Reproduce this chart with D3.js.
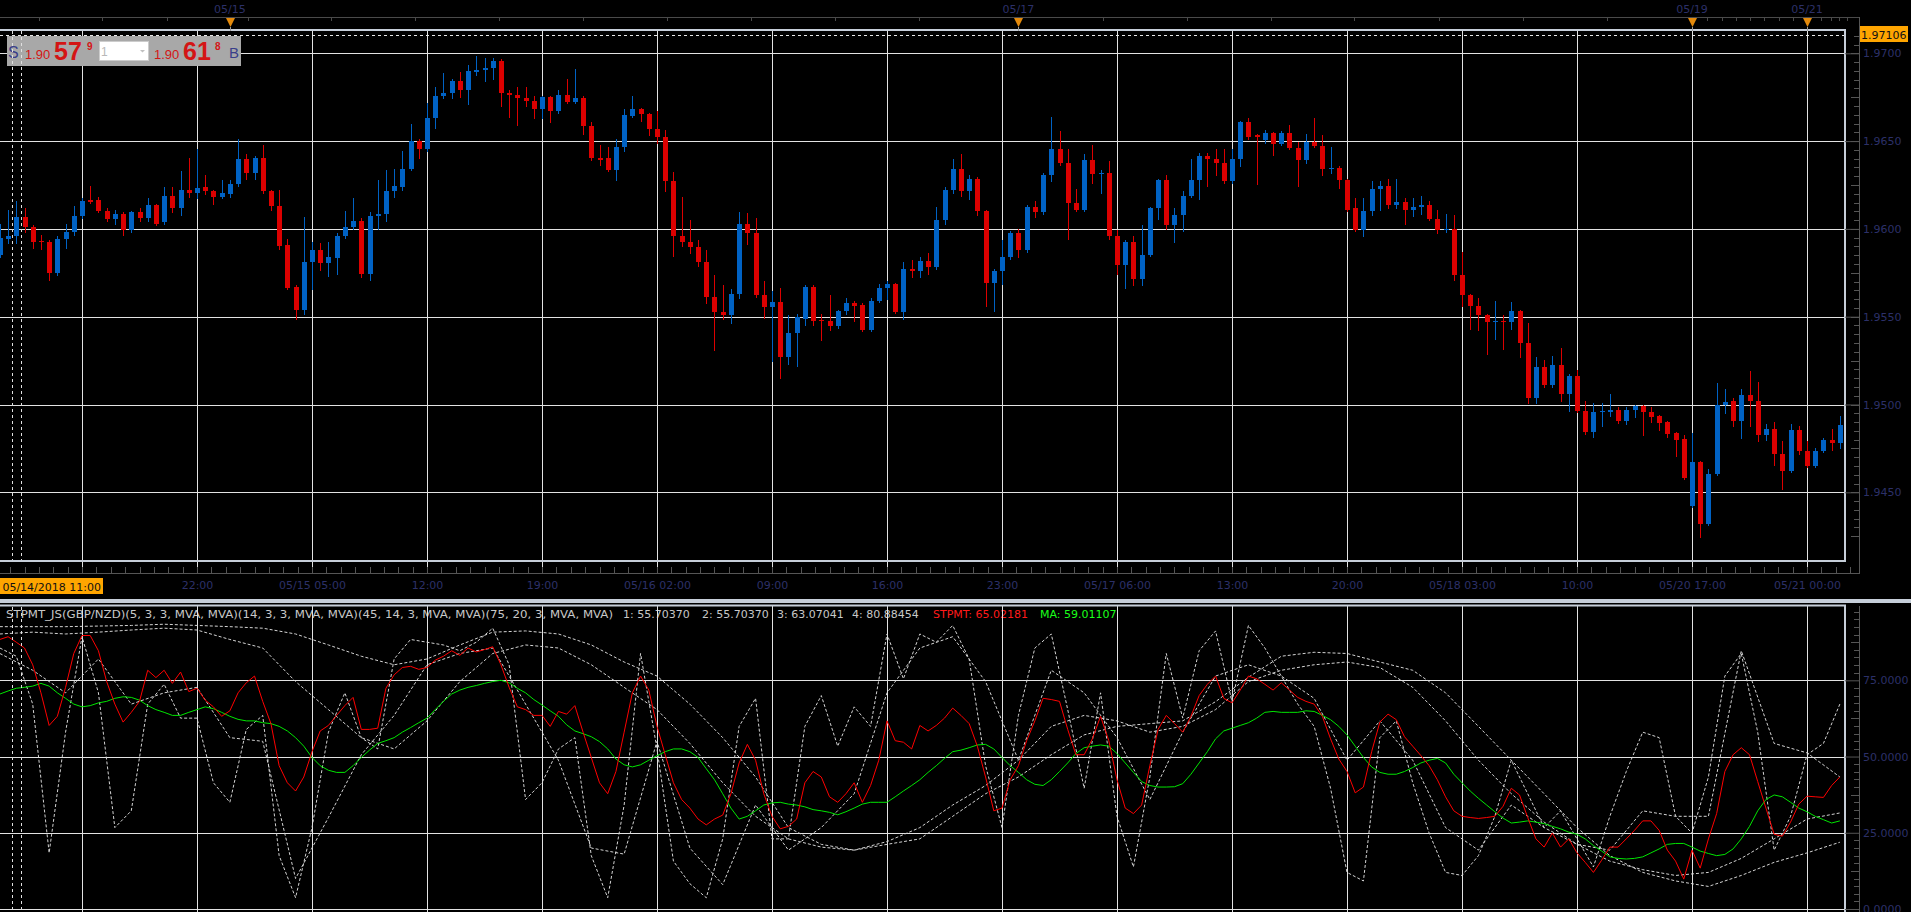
<!DOCTYPE html>
<html>
<head>
<meta charset="utf-8">
<title>GBP/NZD 30min - STPMT</title>
<script src="https://cdn.jsdelivr.net/npm/d3@7/dist/d3.min.js"></script>
<style>
  html, body { margin: 0; padding: 0; background: #000; overflow: hidden; }
  svg { display: block; }
</style>
</head>
<body>
<svg id="chart" width="1911" height="912"></svg>
<script>
// GBP/NZD, 30 minute candles, 05/14/2018 10:00 .. 05/21/2018 02:00
const openP = [1.95854,1.95941,1.95957,1.96069,1.96008,1.95931,1.95925,1.95749,1.95941,1.95982,
  1.96072,1.96162,1.96162,1.96101,1.96056,1.96085,1.95992,1.96094,1.96062,1.96136,
  1.96037,1.96190,1.96117,1.96222,1.96206,1.96238,1.96213,1.96181,1.96200,1.96254,
  1.96398,1.96318,1.96405,1.96216,1.96133,1.95909,1.95669,1.95541,1.95813,1.95880,
  1.95806,1.95832,1.95960,1.96008,1.96046,1.95742,1.96072,1.96085,1.96213,1.96238,
  1.96341,1.96501,1.96453,1.96629,1.96757,1.96773,1.96840,1.96789,1.96894,1.96904,
  1.96917,1.96958,1.96776,1.96760,1.96744,1.96728,1.96680,1.96750,1.96670,1.96760,
  1.96725,1.96744,1.96584,1.96405,1.96405,1.96334,1.96469,1.96645,1.96680,1.96654,
  1.96568,1.96526,1.96270,1.95960,1.95928,1.95896,1.95813,1.95614,1.95528,1.95509,
  1.95630,1.96030,1.95976,1.95621,1.95554,1.95586,1.95272,1.95407,1.95486,1.95669,
  1.95480,1.95474,1.95448,1.95534,1.95576,1.95566,1.95422,1.95592,1.95662,1.95688,
  1.95528,1.95774,1.95758,1.95816,1.95781,1.96053,1.96222,1.96341,1.96216,1.96286,
  1.96101,1.95694,1.95758,1.95838,1.95976,1.95877,1.96126,1.96094,1.96309,1.96453,
  1.96373,1.96149,1.96110,1.96392,1.96312,1.96318,1.95957,1.95797,1.95925,1.95717,
  1.95854,1.96120,1.96280,1.96021,1.96078,1.96190,1.96277,1.96414,1.96398,1.96373,
  1.96270,1.96398,1.96606,1.96533,1.96504,1.96546,1.96485,1.96546,1.96462,1.96392,
  1.96494,1.96472,1.96341,1.96347,1.96277,1.96117,1.95992,1.96101,1.96229,1.96245,
  1.96136,1.96155,1.96110,1.96126,1.96136,1.96056,1.95992,1.95998,1.95736,1.95624,
  1.95560,1.95512,1.95470,1.95477,1.95470,1.95534,1.95349,1.95038,1.95214,1.95109,
  1.95227,1.95061,1.95160,1.94965,1.94846,1.94955,1.94958,1.94968,1.94904,1.94968,
  1.94990,1.94958,1.94933,1.94901,1.94837,1.94805,1.94421,1.94670,1.94318,1.94606,
  1.94997,1.95022,1.94904,1.95054,1.95022,1.94824,1.94862,1.94718,1.94622,1.94856,
  1.94734,1.94648,1.94734,1.94798,1.94782];
const highP = [1.96030,1.96110,1.96158,1.96117,1.96021,1.95966,1.95934,1.95957,1.96030,1.96133,
  1.96174,1.96245,1.96181,1.96117,1.96110,1.96094,1.96104,1.96117,1.96174,1.96142,
  1.96238,1.96238,1.96328,1.96405,1.96456,1.96309,1.96222,1.96277,1.96277,1.96510,
  1.96424,1.96414,1.96478,1.96222,1.96222,1.95944,1.95678,1.96069,1.95925,1.95918,
  1.95925,1.95976,1.96101,1.96174,1.96062,1.96094,1.96277,1.96334,1.96341,1.96446,
  1.96597,1.96510,1.96718,1.96808,1.96885,1.96853,1.96894,1.96936,1.96984,1.96974,
  1.96974,1.96968,1.96789,1.96808,1.96808,1.96757,1.96757,1.96757,1.96789,1.96853,
  1.96910,1.96757,1.96606,1.96478,1.96469,1.96510,1.96680,1.96757,1.96686,1.96661,
  1.96670,1.96565,1.96325,1.96184,1.96053,1.95934,1.95877,1.95736,1.95678,1.95656,
  1.96094,1.96088,1.96062,1.95704,1.95646,1.95662,1.95512,1.95518,1.95678,1.95678,
  1.95518,1.95621,1.95541,1.95605,1.95589,1.95576,1.95605,1.95688,1.95701,1.95694,
  1.95813,1.95822,1.95838,1.95861,1.96126,1.96238,1.96398,1.96424,1.96309,1.96296,
  1.96110,1.95774,1.95934,1.95989,1.95998,1.96136,1.96158,1.96318,1.96638,1.96558,
  1.96453,1.96229,1.96424,1.96478,1.96334,1.96389,1.95992,1.95934,1.95957,1.96021,
  1.96126,1.96286,1.96309,1.96117,1.96216,1.96398,1.96430,1.96430,1.96453,1.96456,
  1.96456,1.96616,1.96629,1.96542,1.96565,1.96552,1.96558,1.96590,1.96494,1.96542,
  1.96629,1.96533,1.96469,1.96357,1.96286,1.96174,1.96174,1.96270,1.96270,1.96286,
  1.96286,1.96174,1.96174,1.96187,1.96158,1.96110,1.96085,1.96078,1.95870,1.95630,
  1.95605,1.95518,1.95592,1.95509,1.95582,1.95541,1.95464,1.95272,1.95253,1.95278,
  1.95323,1.95173,1.95198,1.95022,1.95006,1.95006,1.95061,1.94984,1.94984,1.94997,
  1.94997,1.94984,1.94939,1.94904,1.94846,1.94824,1.94837,1.94677,1.94632,1.95125,
  1.95086,1.95035,1.95086,1.95189,1.95128,1.94888,1.94901,1.94792,1.94888,1.94875,
  1.94792,1.94750,1.94808,1.94862,1.94933];
const lowP = [1.95838,1.95918,1.95918,1.95982,1.95893,1.95886,1.95710,1.95739,1.95893,1.95966,
  1.96062,1.96149,1.96094,1.96046,1.96030,1.95966,1.95982,1.96046,1.96046,1.96021,
  1.96030,1.96094,1.96078,1.96181,1.96174,1.96200,1.96142,1.96174,1.96181,1.96245,
  1.96286,1.96286,1.96206,1.96110,1.95886,1.95656,1.95486,1.95518,1.95656,1.95765,
  1.95733,1.95742,1.95950,1.95998,1.95726,1.95710,1.95998,1.96046,1.96181,1.96222,
  1.96334,1.96405,1.96446,1.96574,1.96744,1.96744,1.96750,1.96712,1.96878,1.96840,
  1.96853,1.96702,1.96638,1.96590,1.96702,1.96629,1.96629,1.96606,1.96661,1.96718,
  1.96718,1.96542,1.96392,1.96366,1.96328,1.96277,1.96446,1.96638,1.96613,1.96533,
  1.96488,1.96213,1.95848,1.95902,1.95861,1.95790,1.95576,1.95310,1.95486,1.95464,
  1.95605,1.95912,1.95614,1.95493,1.95246,1.95150,1.95230,1.95221,1.95454,1.95454,
  1.95365,1.95422,1.95438,1.95518,1.95477,1.95416,1.95416,1.95582,1.95598,1.95522,
  1.95486,1.95726,1.95726,1.95742,1.95774,1.96030,1.96206,1.96190,1.96168,1.96078,
  1.95560,1.95534,1.95688,1.95829,1.95838,1.95870,1.96069,1.96085,1.96270,1.96366,
  1.95941,1.96104,1.96104,1.96264,1.96206,1.95944,1.95742,1.95662,1.95678,1.95678,
  1.95848,1.96056,1.95998,1.95925,1.95989,1.96181,1.96168,1.96245,1.96309,1.96264,
  1.96264,1.96360,1.96510,1.96254,1.96488,1.96421,1.96478,1.96456,1.96245,1.96373,
  1.96469,1.96309,1.96318,1.96232,1.96104,1.95989,1.95957,1.96078,1.96110,1.96117,
  1.96117,1.96030,1.96072,1.96085,1.96053,1.95976,1.95982,1.95710,1.95560,1.95432,
  1.95422,1.95288,1.95374,1.95317,1.95429,1.95272,1.95006,1.95006,1.95102,1.95102,
  1.95022,1.94965,1.94958,1.94830,1.94814,1.94878,1.94933,1.94894,1.94888,1.94926,
  1.94824,1.94901,1.94856,1.94814,1.94709,1.94574,1.94414,1.94248,1.94312,1.94600,
  1.94952,1.94875,1.94808,1.94878,1.94792,1.94798,1.94654,1.94517,1.94616,1.94718,
  1.94645,1.94645,1.94728,1.94741,1.94750];
const closeP = [1.95950,1.95957,1.96069,1.96008,1.95925,1.95925,1.95749,1.95941,1.95982,1.96072,
  1.96158,1.96155,1.96101,1.96056,1.96085,1.95992,1.96094,1.96062,1.96136,1.96030,
  1.96190,1.96117,1.96222,1.96206,1.96232,1.96213,1.96181,1.96203,1.96254,1.96398,
  1.96318,1.96405,1.96216,1.96133,1.95902,1.95662,1.95541,1.95813,1.95880,1.95806,
  1.95838,1.95960,1.96008,1.96046,1.95742,1.96072,1.96085,1.96213,1.96245,1.96341,
  1.96501,1.96453,1.96629,1.96757,1.96773,1.96840,1.96789,1.96901,1.96904,1.96917,
  1.96958,1.96776,1.96763,1.96744,1.96728,1.96680,1.96750,1.96670,1.96760,1.96725,
  1.96744,1.96584,1.96405,1.96395,1.96334,1.96469,1.96648,1.96680,1.96654,1.96568,
  1.96526,1.96270,1.95960,1.95928,1.95896,1.95813,1.95614,1.95528,1.95509,1.95630,
  1.96030,1.95976,1.95621,1.95554,1.95586,1.95272,1.95407,1.95496,1.95669,1.95477,
  1.95474,1.95448,1.95534,1.95576,1.95563,1.95422,1.95592,1.95662,1.95688,1.95528,
  1.95774,1.95758,1.95816,1.95781,1.96053,1.96222,1.96341,1.96216,1.96286,1.96101,
  1.95694,1.95758,1.95838,1.95976,1.95877,1.96126,1.96094,1.96309,1.96453,1.96373,
  1.96149,1.96110,1.96392,1.96312,1.96318,1.95957,1.95797,1.95925,1.95717,1.95854,
  1.96120,1.96280,1.96021,1.96078,1.96190,1.96277,1.96414,1.96398,1.96373,1.96270,
  1.96398,1.96606,1.96526,1.96523,1.96546,1.96485,1.96546,1.96462,1.96392,1.96494,
  1.96472,1.96341,1.96347,1.96277,1.96110,1.95992,1.96101,1.96229,1.96245,1.96136,
  1.96155,1.96110,1.96126,1.96136,1.96056,1.95992,1.95998,1.95736,1.95624,1.95560,
  1.95512,1.95470,1.95477,1.95470,1.95534,1.95349,1.95038,1.95214,1.95109,1.95227,
  1.95061,1.95160,1.94965,1.94846,1.94955,1.94965,1.94968,1.94904,1.94968,1.94990,
  1.94958,1.94926,1.94894,1.94830,1.94798,1.94581,1.94670,1.94318,1.94606,1.94997,
  1.95016,1.94904,1.95054,1.95022,1.94824,1.94862,1.94718,1.94622,1.94856,1.94734,
  1.94648,1.94734,1.94798,1.94782,1.94882];

// STPMT (red) and its moving average (green), one value per candle
const stpmt = [88.4,89.3,87.5,85.6,80.1,70.9,60.2,63.2,72.7,83.8,
  89.7,89.7,84.7,74.6,67.2,61.3,64.5,68.1,78.3,75.9,
  78.3,74.0,77.7,71.3,72.4,68.5,66.3,63.2,65.0,70.9,
  74.2,76.4,68.1,60.8,47.0,41.4,38.7,43.3,51.6,58.4,
  60.2,63.5,66.7,69.4,58.9,58.9,59.3,72.4,76.8,79.2,
  79.6,78.6,79.2,81.6,82.9,84.7,83.2,85.6,84.3,85.1,
  86.0,80.1,72.7,66.3,65.4,63.5,63.5,59.9,64.8,63.9,
  66.7,58.0,49.7,41.4,37.8,45.1,58.0,70.9,76.4,71.8,
  59.9,50.6,41.4,35.9,33.1,29.5,27.6,29.5,30.8,37.8,
  47.9,54.0,48.8,37.8,30.4,26.3,27.1,29.5,41.4,45.1,
  43.3,36.8,35.0,37.8,41.4,35.0,40.5,48.8,61.7,55.2,
  54.7,52.5,60.2,58.4,60.2,62.6,65.9,63.5,60.8,53.4,
  43.3,32.2,33.1,42.4,47.0,55.2,61.7,69.1,68.7,68.1,
  58.9,50.6,50.6,55.8,63.2,55.2,42.4,33.1,31.3,34.1,
  47.0,58.9,63.5,60.8,58.0,63.2,70.0,73.7,76.4,69.1,
  67.6,71.8,76.4,75.5,73.7,71.8,74.2,71.8,69.4,68.1,
  67.2,63.2,55.8,49.2,45.1,38.1,40.0,51.6,61.3,63.9,
  62.1,56.5,53.4,50.3,47.0,42.4,36.8,32.2,30.4,30.0,
  29.7,30.0,30.4,33.7,39.6,37.4,30.0,23.0,20.3,24.9,
  20.3,23.0,18.4,15.3,12.0,16.0,20.3,20.3,23.0,25.8,
  28.9,28.9,25.8,19.3,15.7,9.8,19.3,13.4,23.0,31.3,
  45.1,50.6,52.9,50.6,41.8,33.1,24.5,23.9,28.5,34.4,
  37.0,36.8,36.6,40.5,43.3];
const stpmtMA = [70.5,71.5,72.4,72.7,73.1,74.0,73.1,70.9,69.1,67.2,
  66.3,66.7,67.6,68.1,69.1,69.6,69.4,68.5,66.7,65.4,
  64.5,63.5,63.5,64.5,65.4,66.3,65.7,64.5,63.2,62.2,
  61.7,61.7,61.1,60.8,59.9,58.4,56.2,53.4,49.7,47.0,
  45.5,44.8,44.8,47.0,49.7,52.1,54.3,55.2,56.2,58.0,
  59.5,61.1,62.6,65.4,68.1,70.5,71.8,72.7,73.3,74.0,
  74.6,75.0,74.2,72.4,70.9,68.7,66.9,65.0,63.2,60.4,
  58.4,57.5,56.5,54.9,52.5,49.2,47.3,46.6,47.3,48.8,
  50.3,51.6,52.5,52.5,51.6,49.7,46.0,42.4,37.8,33.1,
  29.5,30.4,32.2,34.1,34.8,35.0,34.4,34.1,33.5,32.6,
  32.2,31.7,30.9,31.9,33.1,34.4,35.0,35.0,35.0,36.8,
  38.7,40.5,42.4,44.8,47.0,49.4,51.6,52.1,52.9,53.8,
  54.0,52.5,49.7,47.0,44.8,42.4,40.9,40.5,42.4,45.1,
  47.9,51.0,52.9,53.4,53.8,53.4,51.0,47.9,44.8,41.8,
  40.5,40.0,40.0,40.1,41.1,44.2,47.9,51.6,55.8,58.4,
  59.3,60.2,61.1,62.6,64.5,64.8,64.5,64.5,64.5,65.0,
  64.8,63.5,62.1,59.9,57.1,53.4,49.7,46.6,44.8,44.2,
  44.2,45.1,46.4,47.9,48.8,49.4,47.9,44.2,41.4,38.7,
  36.3,34.1,31.9,29.8,28.2,28.5,28.9,28.5,28.0,27.1,
  26.3,25.2,24.5,23.0,20.8,19.0,17.1,16.6,16.4,16.6,
  17.1,18.4,19.7,21.2,21.5,21.5,20.3,19.0,18.2,17.5,
  17.9,19.7,23.0,27.1,32.2,35.9,37.4,36.8,35.0,33.1,
  31.9,30.4,29.3,28.2,28.9];

// the four stochastics (dashed), read every 2 candles (1) and every 4 candles (2..4)
const stoch1Step = 2;
const stoch1 = [85.6,82.9,67.2,18.4,58.0,89.3,70.9,26.7,32.2,67.2,
  73.7,62.6,62.6,41.4,35.0,58.9,63.5,17.5,3.7,26.7,
  58.0,70.9,56.2,52.5,82.0,88.4,87.5,86.6,84.7,87.5,
  92.1,80.1,35.9,41.4,52.5,56.2,17.5,3.7,34.1,83.8,
  52.5,15.7,8.3,3.7,23.0,59.9,69.1,23.0,23.0,59.9,
  70.0,53.4,66.3,59.9,90.2,75.5,90.2,87.5,93.0,82.0,
  47.0,26.7,63.5,85.6,90.2,65.4,39.6,70.9,30.4,13.8,
  43.3,83.8,62.6,84.7,91.2,68.0,93.0,85.6,76.4,67.2,
  59.9,39.6,12.0,9.2,56.2,61.7,41.4,24.9,12.0,11.0,
  17.5,30.4,48.8,37.8,26.7,32.2,23.0,13.8,30.4,45.1,
  58.0,56.2,30.4,24.9,43.3,76.4,83.8,58.0,19.3,30.4,
  50.6,54.3,67.2];
const stochStep = 4;
const stoch2 = [83.8,78.3,70.9,82.0,67.2,70.9,72.7,56.2,55.0,10.0,
  30.0,50.6,63.5,80.1,83.8,85.6,67.2,48.8,20.0,18.0,
  55.0,20.0,8.0,34.1,19.3,26.7,37.8,70.9,85.6,89.3,
  74.6,48.8,78.3,70.9,56.2,35.9,58.0,76.4,80.1,76.4,
  69.1,48.8,61.7,48.8,26.7,19.3,34.1,26.7,21.2,19.3,
  32.2,30.4,30.4,84.7,54.3,51.2,43.3];
const stoch3 = [90.2,90.8,90.2,90.8,91.5,92.1,91.5,88.4,85.6,74.6,
  65.4,56.2,52.5,61.7,74.6,83.8,86.6,85.6,80.1,72.7,
  65.4,54.3,41.4,30.4,23.0,20.3,19.3,22.1,26.7,34.1,
  40.5,48.8,59.9,63.5,61.7,58.0,59.9,65.4,74.6,78.3,
  80.1,81.0,79.2,72.7,61.7,48.8,37.8,28.5,21.2,15.7,
  12.9,11.0,12.0,16.6,23.0,29.5,31.5];
const stoch4 = [92.6,92.6,92.6,92.8,93.0,93.4,93.0,92.6,92.1,90.2,
  86.6,82.9,80.1,82.0,86.6,90.8,91.2,90.2,86.6,81.0,
  76.4,67.2,56.2,43.3,26.7,21.2,19.3,21.2,23.0,30.4,
  37.8,43.3,50.6,57.1,59.9,60.8,61.7,68.0,76.0,82.9,
  84.2,83.8,81.0,78.3,70.9,59.9,48.8,37.8,26.7,17.5,
  12.0,9.2,7.4,11.0,15.3,18.4,21.9];

// axes (the 15:00 label sits under the cursor tag, so it is left empty)
const gridIdx = [10, 24, 38, 52, 66, 80, 94, 108, 122, 136, 150, 164, 178, 192, 206, 220];
const gridLabels = ['', '22:00', '05/15 05:00', '12:00', '19:00', '05/16 02:00', '09:00', '16:00',
  '23:00', '05/17 06:00', '13:00', '20:00', '05/18 03:00', '10:00', '05/20 17:00', '05/21 00:00'];
const dayIdx = [28, 124, 206, 220];
const dayLabels = ['05/15', '05/17', '05/19', '05/21'];
const topTickIdx = [4.8, 12.4, 20.3, 30.2, 40.3, 50.5, 60.8, 71.0, 81.2, 91.4, 101.7, 111.9, 134.3, 144.5,
  154.7, 164.9, 175.2, 185.4, 195.6, 207.8, 209.6, 211.3, 213.1, 214.8, 216.6, 218.3, 221.7, 222.9, 223.9, 224.9];
const priceTicks = [1.9450, 1.9500, 1.9550, 1.9600, 1.9650, 1.9700];
const indTicks = [0, 25, 50, 75];
const lastPrice = 1.97106;
const cursorLabel = '05/14/2018 11:00';
const indName = 'STPMT_JS(GBP/NZD)(5, 3, 3, MVA, MVA)(14, 3, 3, MVA, MVA)(45, 14, 3, MVA, MVA)(75, 20, 3, MVA, MVA)';
const indValues = ['1: 55.70370', '2: 55.70370', '3: 63.07041', '4: 80.88454'];
const stpmtText = 'STPMT: 65.02181';
const maText = 'MA: 59.01107';

const W = 1911, H = 912;
const FONT = 'DejaVu Sans, sans-serif';
const gridColor = '#e2e2e2', frameColor = '#c6ced9', axisColor = '#555', textColor = '#2c3068';
const upColor = '#0062c4', downColor = '#dc0000';

const x = d3.scaleLinear().domain([10, 220]).range([82, 1807]);
const yP = d3.scaleLinear().domain([1.945, 1.970]).range([492.3, 53.3]);
const yI = d3.scaleLinear().domain([0, 100]).range([909, 604.1]);
const px = v => Math.round(v) + 0.5;

const svg = d3.select('#chart');
svg.append('rect').attr('width', W).attr('height', H).attr('fill', '#000');

const defs = svg.append('defs');
defs.append('clipPath').attr('id', 'clipMain').append('rect')
  .attr('x', 0).attr('y', 31).attr('width', 1844).attr('height', 529);
defs.append('clipPath').attr('id', 'clipInd').append('rect')
  .attr('x', 0).attr('y', 607).attr('width', 1844).attr('height', 310);

// ---------- main price panel ----------
const gMain = svg.append('g');
gMain.selectAll('.hgrid').data(priceTicks).enter().append('line')
  .attr('x1', 0).attr('x2', 1845)
  .attr('y1', d => px(yP(d))).attr('y2', d => px(yP(d)))
  .attr('stroke', gridColor);
gMain.selectAll('.vgrid').data(gridIdx).enter().append('line')
  .attr('x1', d => px(x(d))).attr('x2', d => px(x(d)))
  .attr('y1', 31).attr('y2', 573)
  .attr('stroke', gridColor);

const candles = gMain.append('g').attr('clip-path', 'url(#clipMain)');
const idx = d3.range(closeP.length);
candles.selectAll('.wick').data(idx).enter().append('line')
  .attr('x1', i => px(x(i))).attr('x2', i => px(x(i)))
  .attr('y1', i => Math.round(yP(highP[i]))).attr('y2', i => Math.round(yP(lowP[i])) + 1)
  .attr('stroke', i => closeP[i] >= openP[i] ? upColor : downColor);
candles.selectAll('.body').data(idx).enter().append('rect')
  .attr('x', i => Math.round(x(i)) - 2)
  .attr('width', 5)
  .attr('y', i => Math.round(yP(Math.max(openP[i], closeP[i]))))
  .attr('height', i => Math.max(1, Math.round(yP(Math.min(openP[i], closeP[i]))) - Math.round(yP(Math.max(openP[i], closeP[i])))))
  .attr('fill', i => closeP[i] >= openP[i] ? upColor : downColor);

// last price dashed line
gMain.append('line')
  .attr('x1', 0).attr('x2', 1845)
  .attr('y1', px(yP(lastPrice))).attr('y2', px(yP(lastPrice)))
  .attr('stroke', '#e8e8e8').attr('stroke-dasharray', '3,3');

// frame
gMain.append('rect').attr('x', -3).attr('y', 30).attr('width', 1848).attr('height', 531)
  .attr('fill', 'none').attr('stroke', frameColor).attr('stroke-width', 2);

// right price axis
const gy = svg.append('g').attr('transform', 'translate(1859,0)');
gy.call(d3.axisRight(yP).tickValues(priceTicks).tickFormat(d3.format('.4f'))
  .tickSizeInner(-14).tickSizeOuter(0).tickPadding(4));
gy.select('.domain').remove();
gy.selectAll('.tick line').attr('stroke', axisColor);
gy.selectAll('text').attr('fill', textColor).attr('font-family', FONT).attr('font-size', 11);
gy.selectAll('.minor').data(d3.range(19425, 19730, 5).map(v => v / 10000)
    .filter(v => yP(v) > 32 && yP(v) < 560)).enter().append('line')
  .attr('x1', v => (Math.round(v * 10000) % 25 === 0) ? -8 : -5).attr('x2', 0)
  .attr('y1', v => px(yP(v))).attr('y2', v => px(yP(v)))
  .attr('stroke', axisColor);
svg.append('line').attr('x1', 1859.5).attr('x2', 1859.5).attr('y1', 17).attr('y2', 573.5).attr('stroke', axisColor);

// last price tag
svg.append('rect').attr('x', 1860).attr('y', 26).attr('width', 48).attr('height', 16).attr('fill', '#ffa500');
svg.append('text').attr('x', 1861).attr('y', 38.5).attr('font-family', FONT).attr('font-size', 11)
  .attr('fill', '#111').text(d3.format('.5f')(lastPrice));

// top date axis
svg.append('line').attr('x1', 0).attr('x2', 1859).attr('y1', 17.5).attr('y2', 17.5).attr('stroke', '#4a4a4a');
svg.selectAll('.ttick').data(topTickIdx).enter().append('line')
  .attr('x1', d => px(x(d))).attr('x2', d => px(x(d)))
  .attr('y1', 17).attr('y2', 21).attr('stroke', '#4a4a4a');
svg.selectAll('.dayMark').data(dayIdx).enter().append('path')
  .attr('d', d => { const c = Math.round(x(d)) + 0.5; return `M${c - 4.5},18L${c + 4.5},18L${c},27Z`; })
  .attr('fill', '#e48a0c');
svg.selectAll('.dayStem').data(dayIdx).enter().append('line')
  .attr('x1', d => px(x(d))).attr('x2', d => px(x(d))).attr('y1', 27).attr('y2', 31)
  .attr('stroke', '#999');
svg.selectAll('.dayLabel').data(dayIdx).enter().append('text')
  .attr('x', d => x(d)).attr('y', 12.5).attr('text-anchor', 'middle')
  .attr('font-family', FONT).attr('font-size', 11).attr('fill', textColor)
  .text((d, k) => dayLabels[k]);

// bottom time axis
const gx = svg.append('g').attr('transform', 'translate(0,573)');
gx.call(d3.axisBottom(x).tickValues(gridIdx).tickFormat((d, k) => gridLabels[k]).tickSize(0).tickPadding(8));
gx.select('.domain').remove();
gx.selectAll('text').attr('fill', textColor).attr('font-family', FONT).attr('font-size', 11).attr('dy', '0.75em');
svg.append('line').attr('x1', 0).attr('x2', 1860).attr('y1', 573.5).attr('y2', 573.5).attr('stroke', axisColor);
svg.selectAll('.btick').data(d3.range(1.25, 226, 1.75)).enter().append('line')
  .attr('x1', d => px(x(d))).attr('x2', d => px(x(d)))
  .attr('y1', 567).attr('y2', 573).attr('stroke', axisColor);

// cursor time tag
svg.append('rect').attr('x', 0).attr('y', 578).attr('width', 103).attr('height', 16).attr('fill', '#ffa500');
svg.append('text').attr('x', 101).attr('y', 590.5).attr('text-anchor', 'end')
  .attr('font-family', FONT).attr('font-size', 11).attr('fill', '#111').text(cursorLabel);

// panel separator
svg.append('rect').attr('x', 0).attr('y', 599).attr('width', W).attr('height', 4).attr('fill', frameColor);

// ---------- STPMT panel ----------
const gInd = svg.append('g');
const legend = gInd.append('g').attr('font-family', FONT).attr('font-size', 11);
legend.append('text').attr('x', 6).attr('y', 618).attr('fill', '#c8c8c8')
  .attr('textLength', 607).attr('lengthAdjust', 'spacingAndGlyphs').text(indName);
legend.selectAll('.val').data(indValues).enter().append('text')
  .attr('x', (d, k) => [623, 702, 777, 852][k]).attr('y', 618).attr('fill', '#c8c8c8').text(d => d);
legend.append('text').attr('x', 933).attr('y', 618).attr('fill', '#ff1a1a').text(stpmtText);
legend.append('text').attr('x', 1040).attr('y', 618).attr('fill', '#1aff1a').text(maText);

gInd.selectAll('.hgrid').data(indTicks).enter().append('line')
  .attr('x1', 0).attr('x2', 1845)
  .attr('y1', d => px(yI(d))).attr('y2', d => px(yI(d)))
  .attr('stroke', gridColor);
gInd.selectAll('.vgrid').data(gridIdx).enter().append('line')
  .attr('x1', d => px(x(d))).attr('x2', d => px(x(d)))
  .attr('y1', 606).attr('y2', H)
  .attr('stroke', gridColor);

const lines = gInd.append('g').attr('clip-path', 'url(#clipInd)').attr('fill', 'none');
const lineOf = step => d3.line().x((d, k) => x(k * step)).y(d => yI(d));
[[stoch4, stochStep], [stoch3, stochStep], [stoch2, stochStep], [stoch1, stoch1Step]].forEach(([s, step]) => {
  lines.append('path').datum(s).attr('d', lineOf(step))
    .attr('stroke', '#d4d4d4').attr('stroke-width', 1).attr('stroke-dasharray', '3,2');
});
lines.append('path').datum(stpmtMA).attr('d', lineOf(1)).attr('stroke', '#00e600').attr('stroke-width', 1);
lines.append('path').datum(stpmt).attr('d', lineOf(1)).attr('stroke', '#ff0000').attr('stroke-width', 1);

gInd.append('rect').attr('x', -3).attr('y', 605.5).attr('width', 1848).attr('height', 330)
  .attr('fill', 'none').attr('stroke', frameColor).attr('stroke-width', 2);

const gyi = svg.append('g').attr('transform', 'translate(1859,0)');
gyi.call(d3.axisRight(yI).tickValues(indTicks).tickFormat(d3.format('.4f'))
  .tickSizeInner(-14).tickSizeOuter(0).tickPadding(4));
gyi.select('.domain').remove();
gyi.selectAll('.tick line').attr('stroke', axisColor);
gyi.selectAll('text').attr('fill', textColor).attr('font-family', FONT).attr('font-size', 11);
gyi.selectAll('.minor').data(d3.range(0, 101, 2.5).filter(v => v % 25 !== 0)).enter().append('line')
  .attr('x1', v => v % 12.5 === 0 ? -8 : -5).attr('x2', 0)
  .attr('y1', v => px(yI(v))).attr('y2', v => px(yI(v)))
  .attr('stroke', axisColor);
svg.append('line').attr('x1', 1859.5).attr('x2', 1859.5).attr('y1', 606).attr('y2', H).attr('stroke', axisColor);

// ---------- bid / ask box ----------
const box = svg.append('g').attr('font-family', 'Liberation Sans, Arial, sans-serif');
box.append('rect').attr('x', 7).attr('y', 36).attr('width', 234).attr('height', 30).attr('fill', '#a8a8a8');
box.append('text').attr('x', 8).attr('y', 58).attr('font-size', 16).attr('fill', '#3a3f8a').text('S');
box.append('text').attr('x', 25).attr('y', 59).attr('font-size', 13).attr('fill', '#d41515').text('1.90');
box.append('text').attr('x', 54).attr('y', 60).attr('font-size', 25).attr('font-weight', 'bold').attr('fill', '#d41515').text('57');
box.append('text').attr('x', 87).attr('y', 50).attr('font-size', 10).attr('font-weight', 'bold').attr('fill', '#d41515').text('9');
box.append('rect').attr('x', 99.5).attr('y', 41.5).attr('width', 49).attr('height', 19).attr('fill', '#fff').attr('stroke', '#ccc');
box.append('text').attr('x', 101).attr('y', 56).attr('font-size', 12).attr('fill', '#b8b8b8').text('1');
box.append('path').attr('d', 'M140,50L145,50L142.5,52.5Z').attr('fill', '#c0c0c0');
box.append('text').attr('x', 154).attr('y', 59).attr('font-size', 13).attr('fill', '#d41515').text('1.90');
box.append('text').attr('x', 183).attr('y', 60).attr('font-size', 25).attr('font-weight', 'bold').attr('fill', '#d41515').text('61');
box.append('text').attr('x', 215).attr('y', 50).attr('font-size', 10).attr('font-weight', 'bold').attr('fill', '#d41515').text('8');
box.append('text').attr('x', 229).attr('y', 58).attr('font-size', 15).attr('fill', '#3a3f8a').text('B');

// crosshair (two dashed verticals)
[12.5, 21.5].forEach(cx => {
  svg.append('line').attr('x1', cx).attr('x2', cx).attr('y1', 31).attr('y2', 560)
    .attr('stroke', '#e0e0e0').attr('stroke-dasharray', '3,3');
  svg.append('line').attr('x1', cx).attr('x2', cx).attr('y1', 607).attr('y2', H)
    .attr('stroke', '#e0e0e0').attr('stroke-dasharray', '3,3');
});
</script>
</body>
</html>
